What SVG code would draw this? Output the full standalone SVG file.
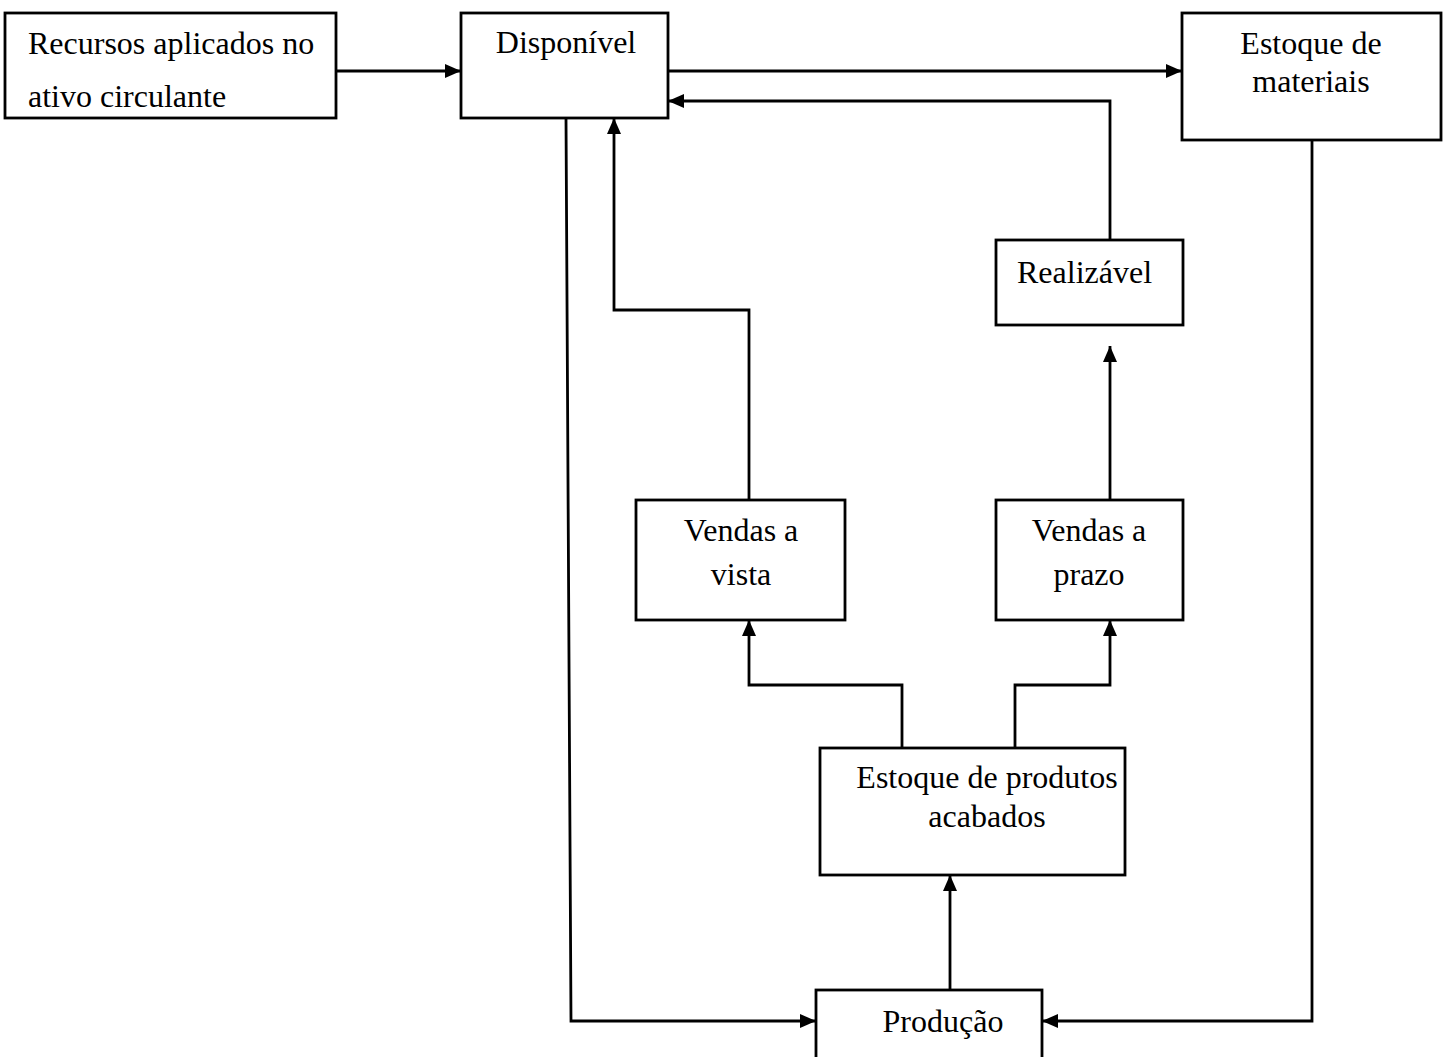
<svg xmlns="http://www.w3.org/2000/svg" width="1445" height="1057" viewBox="0 0 1445 1057">
<defs>
<style>
.box{fill:#fff;stroke:#000;stroke-width:2.8}
.t{font-family:"Liberation Serif","Times New Roman",serif;font-size:32px;fill:#000}
.c{text-anchor:middle}
.ln{fill:none;stroke:#000;stroke-width:2.8}
</style>
<marker id="ah" viewBox="0 0 16 14" refX="16" refY="7" markerWidth="16" markerHeight="14" markerUnits="userSpaceOnUse" orient="auto">
<path d="M0,0 L16,7 L0,14 Z" fill="#000"/>
</marker>
</defs>
<rect width="1445" height="1057" fill="#fff"/>
<g id="connectors">
<path class="ln" d="M336,71 H461" marker-end="url(#ah)"/>
<path class="ln" d="M668,71 H1182" marker-end="url(#ah)"/>
<path class="ln" d="M1110,240 V101 H668" marker-end="url(#ah)"/>
<path class="ln" d="M749,500 V310 H614 V118" marker-end="url(#ah)"/>
<path class="ln" d="M1110,500 V346" marker-end="url(#ah)"/>
<path class="ln" d="M902,748 V685 H749 V620" marker-end="url(#ah)"/>
<path class="ln" d="M1015,748 V685 H1110 V620" marker-end="url(#ah)"/>
<path class="ln" d="M950,990 V875" marker-end="url(#ah)"/>
<path class="ln" d="M566,118 L571,1021 H816" marker-end="url(#ah)"/>
<path class="ln" d="M1312,140 V1021 H1042" marker-end="url(#ah)"/>
</g>
<g id="recursos">
<rect class="box" x="5" y="13" width="331" height="105"/>
<text class="t" x="28" y="54">Recursos aplicados no</text>
<text class="t" x="28" y="107">ativo circulante</text>
</g>
<g id="disponivel">
<rect class="box" x="461" y="13" width="207" height="105"/>
<text class="t c" x="566" y="53">Disponível</text>
</g>
<g id="estoque-materiais">
<rect class="box" x="1182" y="13" width="259" height="127"/>
<text class="t c" x="1311" y="54">Estoque de</text>
<text class="t c" x="1311" y="92">materiais</text>
</g>
<g id="realizavel">
<rect class="box" x="996" y="240" width="187" height="85"/>
<text class="t" x="1017" y="283">Realizável</text>
</g>
<g id="vendas-vista">
<rect class="box" x="636" y="500" width="209" height="120"/>
<text class="t c" x="741" y="541">Vendas a</text>
<text class="t c" x="741" y="585">vista</text>
</g>
<g id="vendas-prazo">
<rect class="box" x="996" y="500" width="187" height="120"/>
<text class="t c" x="1089" y="541">Vendas a</text>
<text class="t c" x="1089" y="585">prazo</text>
</g>
<g id="estoque-produtos">
<rect class="box" x="820" y="748" width="305" height="127"/>
<text class="t c" x="987" y="788">Estoque de produtos</text>
<text class="t c" x="987" y="827">acabados</text>
</g>
<g id="producao">
<rect class="box" x="816" y="990" width="226" height="80"/>
<text class="t c" x="943" y="1032">Produção</text>
</g>
</svg>
